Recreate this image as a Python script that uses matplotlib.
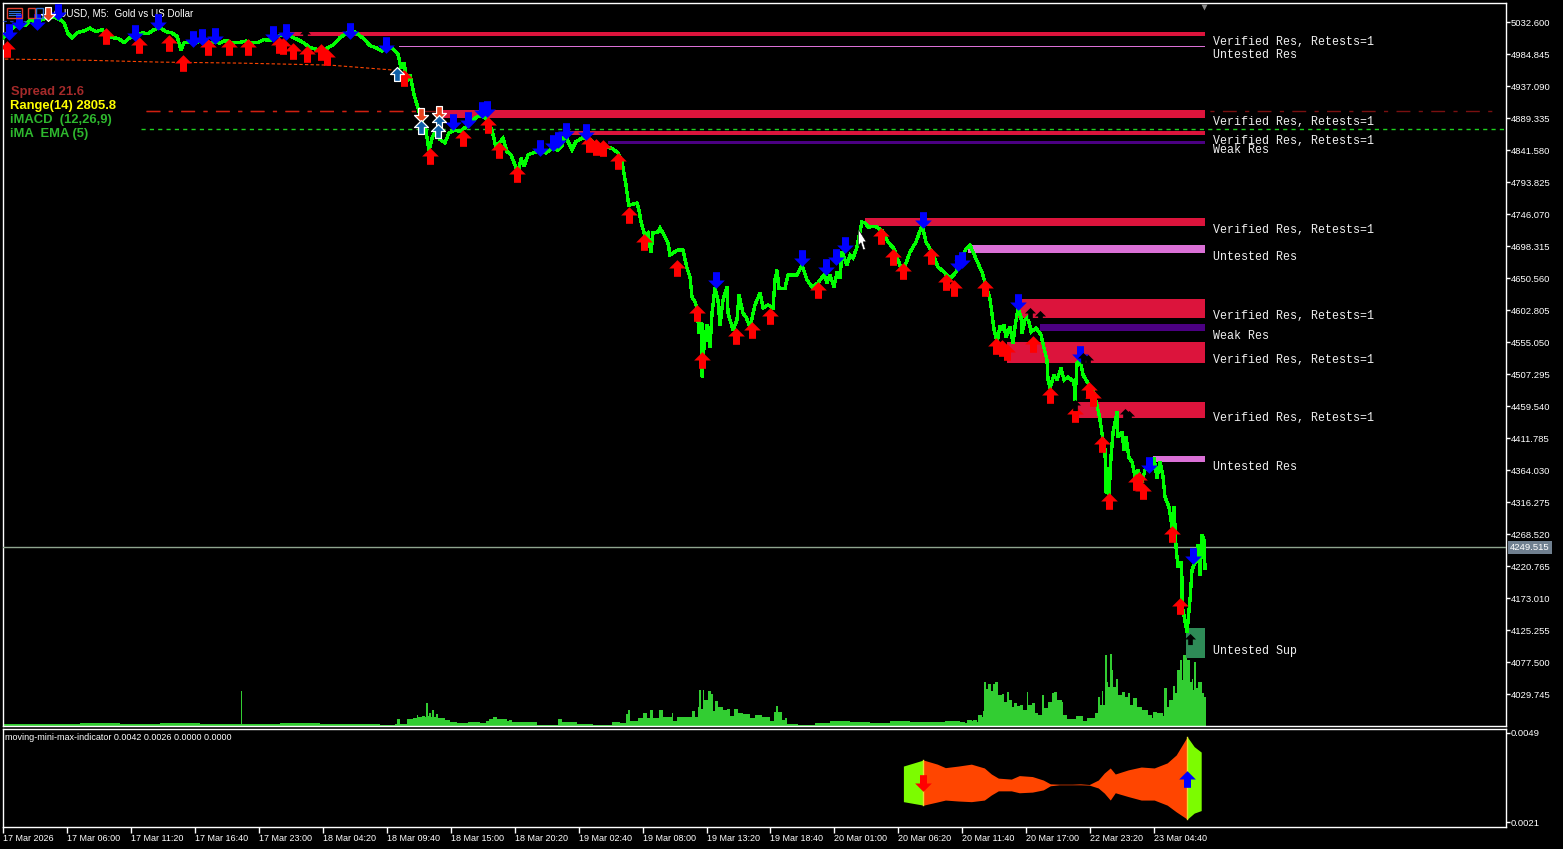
import matplotlib
matplotlib.use("Agg")
import matplotlib.pyplot as plt
from matplotlib.path import Path
from matplotlib.patches import Rectangle

# === Price line (bar number, price) ===
early_x = [3,8,12,20,25,30,36,42,48,53,60,64,68,72,78,84,90,96,102,106,112,118,124,130,136,142,148,154,160,166,172,177,181,184,190,196,202,208,214,220,226,232,240,246,252,258,264,270,276,282,288,293,298,304,310,316,322,328,334,340,346,352,358,364,370,376,382,388,393,398,401,404,407,410,414,418,422,426,429,432,435,440,445,449,455,460,466,472,477,483,489,493,496,499,503,507,511,515,518,521,524,528,533,540,546,552,558,562,565,568,572,576,582,590,596,604,612,618,622,626]
early_p = [5009,5018,5024,5031,5028,5036,5034,5037,5040,5041,5037,5032,5016,5010,5018,5020,5024,5019,5022,5014,5010,5009,5003,5010,5014,5017,5016,5022,5025,5019,5017,5012,4992,5002,5004,5002,5006,5002,5003,5002,5006,5002,5003,5005,5002,5003,5007,5006,5011,5014,5017,5010,5007,5002,4995,4993,4989,4995,5000,5010,5016,5021,5015,5008,4998,4995,4990,4997,4993,4985,4965,4972,4945,4955,4925,4905,4885,4870,4842,4860,4868,4858,4853,4868,4872,4870,4877,4885,4892,4892,4885,4866,4845,4852,4860,4840,4835,4820,4808,4830,4818,4835,4838,4842,4838,4845,4842,4848,4868,4855,4843,4855,4860,4858,4850,4847,4845,4838,4825,4790]
mid_x = [628,629,637,639,641,645,648,651,653,658,660,665,668,670,673,678,683,687,690,692,695,697,699,702,702,704,707,710,712,715,718,720,723,727,728,733,737,739,743,746,750,755,760,763,768,773,775,777,779,785,788,797,802,807,812,818,824,827,830,834,837,840,842,847,850,853,857,862,865,868]
mid_p = [4767.7,4760,4763,4753,4735,4714,4718.5,4689,4718.5,4720,4726,4712.5,4703.6,4685.7,4688.7,4693,4693,4666,4653,4623,4615.5,4606.6,4569,4584,4503.6,4548.4,4581,4548.4,4599,4636.4,4618.5,4581,4618.5,4638,4599,4573.7,4588.6,4626,4599,4593,4578,4611,4629,4606.6,4611,4606.6,4648.4,4663,4636,4636,4655.8,4655.8,4670.7,4648.4,4638,4644,4655.8,4644,4655.8,4638,4660,4651,4690,4670.7,4685.7,4681,4697.6,4735,4733.4,4727.5]
late_x = [876,882,888,894,900,904,910,916,922,926,932,938,944,950,956,960,966,970,976,982,986,990,994,997,1000]
late_p = [4728,4722,4705,4695,4670,4665,4690,4705,4730,4705,4690,4668,4660,4650,4660,4675,4695,4700,4680,4660,4640,4620,4575,4555,4580]
end_x = [1002,1004,1006,1010,1013,1015,1018,1021,1022,1025,1028,1031,1036,1041,1044,1047,1048,1050,1054,1057,1061,1064,1068,1074,1075,1077,1080,1083,1089,1094,1098,1100,1103,1105,1106,1109,1109,1111,1113,1117,1118,1122,1124,1126,1129,1132,1135,1138,1142,1145,1153,1154,1157,1160,1163,1165,1169,1172,1174,1176,1178,1181,1182,1182,1187,1190,1192,1196,1198,1200,1202,1204,1205]
end_p = [4573.7,4581,4563,4578,4554.3,4578,4606.6,4593,4569,4588.6,4593,4570.8,4576.7,4566.3,4546.9,4529,4499,4487,4506.6,4499,4517,4499,4503.6,4496,4469,4524.5,4529,4506.6,4491.7,4479.7,4454.4,4439.4,4409.6,4394.7,4330.5,4367.8,4327.5,4384,4420,4451.4,4414,4421.5,4394.7,4414,4382.7,4376.8,4354.4,4364.8,4347,4364.8,4367.8,4382.7,4352.9,4376.8,4354.4,4324.5,4309.6,4279.8,4309.6,4250,4220,4227.5,4200.6,4163,4123,4170.8,4215.6,4230.5,4253,4208,4267.8,4260,4218.6]
line_x = early_x + mid_x + late_x + end_x
line_p = early_p + mid_p + late_p + end_p

# === Volume ===
vol_x = [3,40,80,120,160,200,241,242,280,320,360,380,395,397,400,407,413,417,418,422,425,426,428,429,431,432,434,436,438,443,445,450,457,468,480,486,489,493,497,507,509,512,517,525,537,558,562,570,577,593,608,612,620,626,628,630,638,643,647,650,653,659,663,672,673,677,687,692,695,698,699,701,703,704,708,711,713,715,718,723,727,730,734,738,743,750,755,762,770,774,776,778,782,785,787,798,815,830,850,870,890,910,930,945,960,965,967,972,973,977,978,982,983,984,986,988,991,993,995,998,1002,1004,1007,1009,1012,1014,1017,1020,1023,1027,1028,1032,1035,1038,1042,1044,1048,1052,1054,1057,1062,1063,1067,1073,1076,1080,1083,1087,1095,1098,1100,1102,1103,1105,1107,1108,1110,1112,1113,1116,1118,1122,1125,1128,1130,1133,1137,1142,1146,1148,1152,1153,1157,1163,1164,1167,1169,1173,1175,1177,1180,1182,1183,1187,1190,1192,1193,1194,1196,1198,1202,1204]
vol_h = [2,2,3,2,3,2,35,2,3,2,2,1,2,7,2,7,8,11,9,10,9,23,10,13,9,16,9,12,8,8,6,4,3,4,3,5,7,9,7,5,6,4,4,4,1,7,4,4,2,1,1,4,3,12,16,5,8,13,8,16,8,16,9,13,5,9,9,15,9,19,36,17,36,26,35,32,15,25,19,16,17,10,17,13,12,8,11,9,5,14,20,14,6,8,2,1,3,5,4,3,5,4,4,5,4,3,6,5,6,4,11,9,15,44,37,42,35,42,44,31,32,24,34,26,19,23,20,21,16,34,21,23,13,11,31,18,24,33,34,26,24,11,7,7,10,10,5,8,13,29,21,35,21,71,44,39,72,56,39,47,31,34,29,33,21,28,19,16,16,11,8,14,13,10,38,19,26,40,33,56,66,46,71,66,44,47,36,64,38,44,33,29]
vol_end = 1206

# === Zones ===
zone_x = [290,399,437,570,608,865,968,1018,1040,1007,1075,1153,1186]
zone_top = [5018.4,4997.6,4902.0,4870.7,4855.8,4740.9,4700.6,4620.0,4582.7,4555.8,4466.3,4385.7,4129.0]
zone_bot = [5012.5,4995.3,4890.1,4864.7,4852.0,4728.9,4688.6,4591.6,4572.2,4524.5,4442.4,4376.8,4084.3]
zone_col = ['#DC143C','#DA70D6','#DC143C','#DC143C','#4B0082','#DC143C','#DA70D6','#DC143C','#4B0082','#DC143C','#DC143C','#DA70D6','#2E8B57']
zone_end = 1205
zone_lab = ['Verified Res, Retests=1','Untested Res','Verified Res, Retests=1','Verified Res, Retests=1','Weak Res','Verified Res, Retests=1','Untested Res','Verified Res, Retests=1','Weak Res','Verified Res, Retests=1','Verified Res, Retests=1','Untested Res','Untested Sup']
zone_lab_p = [5003.5,4984.1,4884.1,4855.8,4842.4,4723.0,4682.7,4594.6,4564.8,4529.0,4442.4,4369.3,4094.7]

# === Arrows ===
up_x = [7,106,139,169,183,208,229,248,279,283,293,307,321,327,404,430,463,488,499,517,589,596,603,618,629,644,677,697,702,736,752,770,818,881,893,903,931,946,954,985,996,1002,1007,1033,1050,1075,1089,1093,1102,1109,1136,1139,1143,1172,1180]
up_p = [4993,5012.5,4999,5002,4972,4996,4996,4996,4999,4998,4990,4986,4989,4981,4950,4833,4860,4880,4842,4807,4851.3,4847,4845,4826,4745.4,4705,4666,4599,4529,4565,4574,4595,4633.5,4714,4683,4662,4684,4645,4636,4636,4550,4547,4541,4553,4477,4448,4484,4472,4404,4319,4347,4350,4334,4269,4162]
down_x = [9,19,37,58,135,158,193,202,215,273,286,350,386,453,468,482,487,540,553,558,566,586,716,802,826,836,845,923,958,962,1018,1080,1149,1193]
down_p = [5018.4,5033,5033,5048,5017,5033,5008,5011,5012.5,5015.5,5018.4,5020,4999,4884,4887,4902,4904,4845,4853,4857,4871,4869,4648.4,4681,4668,4683,4701,4738,4674,4678,4615.5,4538,4372,4236.5]
sell_x = [48,421,439]
sell_p = [5045,4894.6,4897.6]
buy_x = [397,421,439,438]
buy_p = [4956,4876.7,4884,4871]
dark_x = [305,1030,1040,1083,1088,1075,1125,1129,1190]
dark_p = [5015,4599,4594,4532,4529,4462,4448,4445,4113]

# === Levels ===
ask_p = 4900.6
ema_p = 4874.4
last_p = 4249.515
stop_x = [5,80,160,240,330,390,400]
stop_p = [4978,4976.5,4973.5,4972,4969,4962,4960]
blue_lvl_x = [3,40]
blue_lvl_p = [5035,5035]

# === Sub window ===
sub_top_x = [903,923,937,945,958,971,984,991,998,1011,1019,1032,1043,1050,1059,1072,1080,1089,1098,1104,1110,1115,1128,1141,1154,1167,1176,1187]
sub_top_v = [.00386,.00405,.00392,.00381,.00386,.00392,.00380,.00361,.00348,.00345,.00356,.00353,.00342,.00330,.00329,.00329,.00330,.00328,.00342,.00364,.00380,.00361,.00374,.00383,.00380,.00396,.00421,.00478]
sub_bot_v = [.00274,.00263,.00273,.00279,.00276,.00274,.00279,.00295,.00308,.00308,.00302,.00304,.00311,.00324,.00327,.00327,.00327,.00326,.00317,.00301,.00279,.00302,.00290,.00279,.00279,.00263,.00242,.00219]
green_r_x = [1187,1194,1201]
green_r_top = [.00478,.00447,.00430]
green_r_bot = [.00219,.00238,.00246]

# === Ticks ===
y_ticks = [5032.600,4984.845,4937.090,4889.335,4841.580,4793.825,4746.070,4698.315,4650.560,4602.805,4555.050,4507.295,4459.540,4411.785,4364.030,4316.275,4268.520,4220.765,4173.010,4125.255,4077.500,4029.745]
x_ticks = [2,66,130,194,258,322,386,450,514,578,642,706,770,834,898,962,1026,1090,1154]
x_labels = ['17 Mar 2026','17 Mar 06:00','17 Mar 11:20','17 Mar 16:40','17 Mar 23:00','18 Mar 04:20','18 Mar 09:40','18 Mar 15:00','18 Mar 20:20','19 Mar 02:40','19 Mar 08:00','19 Mar 13:20','19 Mar 18:40','20 Mar 01:00','20 Mar 06:20','20 Mar 11:40','20 Mar 17:00','22 Mar 23:20','23 Mar 04:40']

W, H = 1563, 849
plt.rcParams['font.family'] = ['Liberation Sans', 'DejaVu Sans']
FS = 6.8

fig = plt.figure(figsize=(W / 100, H / 100), dpi=100, facecolor='black')


def px_axes(l, t, r, b):
    return fig.add_axes([l / W, 1 - b / H, (r - l) / W, (b - t) / H])


# arrow markers
UP = Path([(0, 1), (1, 0), (0.42, 0), (0.42, -1), (-0.42, -1), (-0.42, 0), (-1, 0), (0, 1)], closed=True)
DOWN = Path([(0, -1), (1, 0), (0.42, 0), (0.42, 1), (-0.42, 1), (-0.42, 0), (-1, 0), (0, -1)], closed=True)
CURSOR = Path([(0, 1), (0, -0.45), (0.22, -0.2), (0.42, -0.85), (0.62, -0.78), (0.42, -0.12), (0.7, -0.12), (0, 1)], closed=True)

# === Volume axes (behind the price) ===
vol = px_axes(3, 3, 1506, 726)
vol.set_xlim(3, 1506)
vol.set_ylim(0, 723)
vol.set_facecolor('black')
vol.axis('off')
vol.fill_between(vol_x + [vol_end], vol_h + [vol_h[-1]], 0, step='post', color='#32CD32', lw=0)

# === Main axes ===
ax = px_axes(3, 3, 1506, 726)
ax.patch.set_alpha(0)
ax.set_xlim(3, 1506)
ax.set_ylim(3982.7, 5061.7)
for s in ax.spines.values():
    s.set_color('white')
    s.set_linewidth(1)

for i in range(len(zone_x)):
    ax.add_patch(Rectangle((zone_x[i], zone_bot[i]), zone_end - zone_x[i], zone_top[i] - zone_bot[i],
                           fc=zone_col[i], ec='none', zorder=2))
    ax.text(1213, zone_lab_p[i], zone_lab[i], color='#f0f0f0', family='Liberation Mono', fontsize=8.4,
            va='center', ha='left', zorder=6)

ax.plot([146, 1500], [ask_p, ask_p], color='#7a1010', lw=1, ls=(0, (10, 6, 3, 6)), zorder=1)
ax.plot([146, 420], [ask_p, ask_p], color='#d02010', lw=1, ls=(0, (10, 6, 3, 6)), zorder=1)
ax.plot([141, 1506], [ema_p, ema_p], color='#1fd01f', lw=1, ls=(0, (3, 3)), zorder=3)
ax.plot(stop_x, stop_p, color='#ff4500', lw=0.8, ls=(0, (3, 2)), zorder=3)
ax.plot(blue_lvl_x, blue_lvl_p, color='#2040c0', lw=0.8, ls=(0, (3, 3)), zorder=3)
ax.axhline(last_p, color='#8fa58f', lw=1, zorder=3)

ax.plot(line_x, line_p, color='#00FF00', lw=1.7, zorder=4, solid_joinstyle='miter', antialiased=False)

ax.plot(up_x, up_p, ls='', marker=UP, ms=12, mfc='#FF0000', mec='none', zorder=5)
ax.plot(down_x, down_p, ls='', marker=DOWN, ms=12, mfc='#0000FF', mec='none', zorder=5)
ax.plot(sell_x, sell_p, ls='', marker=DOWN, ms=10, mfc='#E8401C', mec='white', mew=0.9, zorder=5)
ax.plot(buy_x, buy_p, ls='', marker=UP, ms=10, mfc='#0F5FA8', mec='white', mew=0.9, zorder=5)
ax.plot(dark_x, dark_p, ls='', marker=UP, ms=8, mfc='black', mec='none', zorder=5)
ax.plot([858], [4708], ls='', marker=CURSOR, ms=16, mfc='white', mec='black', mew=0.4, zorder=7)
ax.plot([1204], [5056], ls='', marker='v', ms=5, mfc='#8a8a8a', mec='none', zorder=7)

ax.yaxis.tick_right()
ax.set_yticks(y_ticks)
ax.set_yticklabels([f'{v:.3f}' for v in y_ticks], fontsize=FS, color='white')
ax.tick_params(axis='y', length=3, width=1, color='white', pad=0.5)
ax.set_xticks([])

ax.annotate(f'{last_p:.3f}', (1510, last_p), xycoords=('data', 'data'), annotation_clip=False,
            color='white', fontsize=FS, va='center', ha='left',
            bbox=dict(boxstyle='square,pad=0.2', fc='#708090', ec='none'), zorder=8)

tr = ax.transAxes


def ax_xy(px, py):
    return (px - 3) / 1503, 1 - (py - 3) / 723


ax.text(*ax_xy(46, 13), 'XAUUSD, M5:  Gold vs US Dollar', transform=tr, color='white', fontsize=7.1, va='center', zorder=4)
ax.text(*ax_xy(11, 92), 'Spread 21.6', transform=tr, color='#A52A2A', fontsize=9.4, weight='bold', va='center')
ax.text(*ax_xy(10, 106), 'Range(14) 2805.8', transform=tr, color='#FFFF00', fontsize=9.4, weight='bold', va='center')
ax.text(*ax_xy(10, 120), 'iMACD  (12,26,9)', transform=tr, color='#2EB82E', fontsize=9.4, weight='bold', va='center')
ax.text(*ax_xy(10, 134), 'iMA  EMA (5)', transform=tr, color='#2EB82E', fontsize=9.4, weight='bold', va='center')

# chart icons
ax.add_patch(Rectangle(ax_xy(7, 18), 15 / 1503, 10 / 723, transform=tr, fc='none', ec='#E04030', lw=1, zorder=5))
for py in [11, 13, 15]:
    ax.plot([ax_xy(9, py)[0], ax_xy(20, py)[0]], [ax_xy(9, py)[1]] * 2, transform=tr, color='#3070D0', lw=0.8, zorder=5)
ax.add_patch(Rectangle(ax_xy(28, 18), 7 / 1503, 10 / 723, transform=tr, fc='none', ec='#E04030', lw=1, zorder=5))
ax.add_patch(Rectangle(ax_xy(36, 18), 7 / 1503, 10 / 723, transform=tr, fc='none', ec='#3070D0', lw=1, zorder=5))

# === Sub window ===
sub = px_axes(3, 729, 1506, 827)
sub.set_facecolor('black')
sub.set_xlim(3, 1506)
sub.set_ylim(0.0049 - 94 * 3.146e-5, 0.0049 + 4 * 3.146e-5)
for s in sub.spines.values():
    s.set_color('white')
    s.set_linewidth(1)
sub.fill_between(sub_top_x[:2], sub_top_v[:2], sub_bot_v[:2], color='#7CFC00', lw=0)
sub.fill_between(sub_top_x[1:], sub_top_v[1:], sub_bot_v[1:], color='#FF4500', lw=0)
sub.fill_between(green_r_x, green_r_top, green_r_bot, color='#7CFC00', lw=0)
sub.plot([923, 923], [sub_top_v[1], sub_bot_v[1]], color='#E8E030', lw=1)
sub.plot([1187, 1187], [sub_top_v[-1], sub_bot_v[-1]], color='#E8E030', lw=1)
sub.plot([923], [0.00333], ls='', marker=DOWN, ms=12, mfc='#FF0000', mec='none')
sub.plot([1187], [0.00345], ls='', marker=UP, ms=12, mfc='#0000FF', mec='none')
sub.text(2 / 1503, 1 - 8 / 98, 'moving-mini-max-indicator 0.0042 0.0026 0.0000 0.0000', transform=sub.transAxes,
         color='white', fontsize=6.5, va='center')
sub.yaxis.tick_right()
sub.set_yticks([0.0049, 0.0021])
sub.set_yticklabels(['0.0049', '0.0021'], fontsize=FS, color='white')
sub.tick_params(axis='y', length=3, width=1, color='white', pad=0.5)
sub.set_xticks(x_ticks)
sub.set_xticklabels(x_labels, fontsize=6.5, color='white', ha='left')
sub.tick_params(axis='x', length=4, width=1, color='white', pad=1)

fig.savefig('out.png', dpi=100, facecolor='black')
